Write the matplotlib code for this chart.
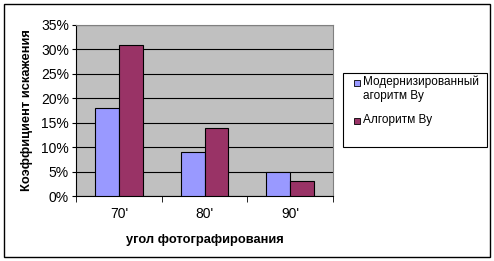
import matplotlib
matplotlib.use('Agg')
import matplotlib.pyplot as plt
import numpy as np
from matplotlib.patches import Rectangle

plt.rcParams['font.family'] = ['Liberation Sans', 'DejaVu Sans']

categories = ["70'", "80'", "90'"]
modern = [0.18, 0.09, 0.05]
wu = [0.31, 0.14, 0.03]
series_names = ['Модернизированный\nагоритм Ву', 'Алгоритм Ву']
colors = ['#9999FF', '#993366']

fig = plt.figure(figsize=(4.94, 2.61), dpi=100)
fig.patch.set_facecolor('white')
# внешняя рамка
fig.patches.append(Rectangle((4/494, 4/261), 486/494, 253/261, transform=fig.transFigure,
                             fill=False, edgecolor='black', linewidth=1))

ax = fig.add_axes([76/494, 65/261, 257/494, 171/261])
ax.set_facecolor('#C0C0C0')

x = np.arange(len(categories))
w = 0.28
ax.bar(x - w/2, modern, w, color=colors[0], edgecolor='black', linewidth=0.8, zorder=3)
ax.bar(x + w/2, wu, w, color=colors[1], edgecolor='black', linewidth=0.8, zorder=3)

ax.set_xlim(-0.5, 2.5)
ax.set_ylim(0, 0.35)
yt = np.arange(0, 0.36, 0.05)
ax.set_yticks(yt)
ax.set_yticklabels([f'{int(round(v*100))}%' for v in yt], fontsize=10)
ax.yaxis.grid(True, color='black', linewidth=0.8, zorder=0)
ax.set_axisbelow(True)

ax.set_xticks(x)
ax.set_xticklabels(categories, fontsize=10)
ax.tick_params(axis='x', length=0, pad=8)
ax.set_xticks([-0.5, 0.5, 1.5, 2.5], minor=True)
ax.tick_params(axis='x', which='minor', length=4, direction='out', color='black')
ax.tick_params(axis='y', length=3, direction='out', pad=2)

for s in ['top', 'right']:
    ax.spines[s].set_color('#808080')
for s in ['left', 'bottom']:
    ax.spines[s].set_color('black')

ax.set_xlabel('угол фотографирования', fontsize=9.3, fontweight='bold', labelpad=9)
ax.set_ylabel('Коэффициент искажения', fontsize=9.3, fontweight='bold', labelpad=6)

# легенда вручную
fig.patches.append(Rectangle((343/494, 1 - 147/261), 144/494, 74/261, transform=fig.transFigure,
                             fill=True, facecolor='white', edgecolor='black', linewidth=0.8))
leg_y = [83, 121]
for name, c, yy in zip(series_names, colors, leg_y):
    fig.patches.append(Rectangle((354/494, 1 - (yy + 3)/261), 6/494, 6/261,
                                 transform=fig.transFigure, facecolor=c,
                                 edgecolor='black', linewidth=0.6))
    fig.text(363/494, 1 - (yy - 7)/261, name, fontsize=8.5, va='top', ha='left',
             linespacing=1.15)

fig.savefig('out.png', dpi=100)
